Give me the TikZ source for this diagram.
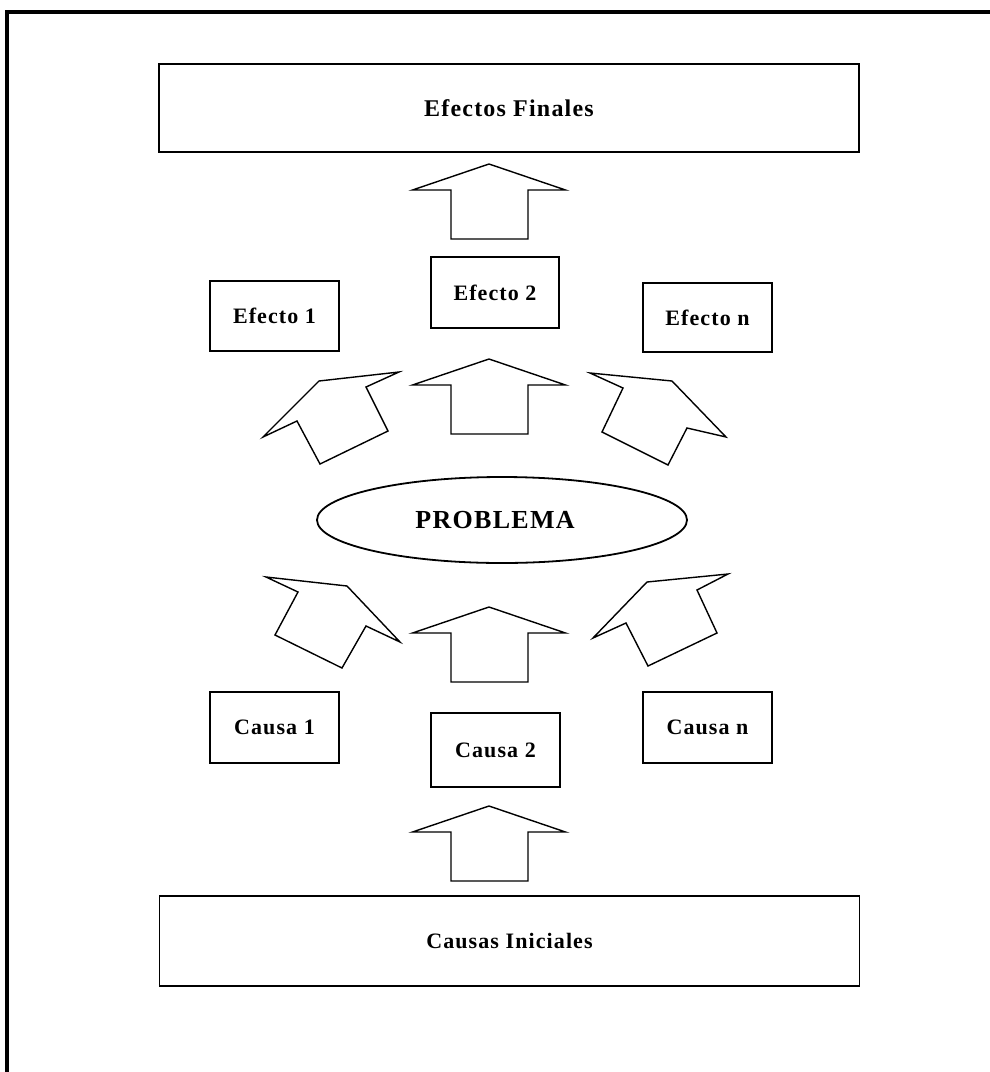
\documentclass[tikz,border=0pt]{standalone}
\usepackage{fontspec}
\setmainfont{Liberation Serif}[LetterSpace=5]
\usetikzlibrary{shapes.geometric}

\tikzset{
  caja/.style={draw, line width=0.9pt, inner sep=0pt,
               font=\bfseries\fontsize{11}{13}\selectfont},
  cajagrande/.style={caja, minimum width=350pt, minimum height=44pt},
  flecha/.style={draw, line width=0.7pt, line join=miter},
  marco/.style={line width=2.2pt},
}

\begin{document}
\begin{tikzpicture}[x=0.5pt, y=-0.5pt]
\useasboundingbox (0,0) rectangle (990,1072);
\draw[marco] (7,1072) -- (7,12) -- (990,12);

% efectos
\node[cajagrande, font=\bfseries\fontsize{12}{14}\selectfont] (efinal) at (509,108) {Efectos Finales};
\node[caja, minimum width=64.5pt, minimum height=35pt] (efecto1) at (274.5,316) {Efecto 1};
\node[caja, minimum width=64pt, minimum height=35.5pt] (efecto2) at (495,292.5) {Efecto 2};
\node[caja, minimum width=64.5pt, minimum height=34.5pt] (efecton) at (707.5,317.5) {Efecto n};

\node[draw, ellipse, line width=0.9pt, minimum width=185pt, minimum height=43pt,
      font=\bfseries\fontsize{13}{15}\selectfont] (problema) at (502,520) {\hspace*{-7pt}PROBLEMA};

% causas
\node[caja, minimum width=64.5pt, minimum height=35.5pt] (causa1) at (274.5,727.5) {Causa 1};
\node[caja, minimum width=64.5pt, minimum height=37pt] (causa2) at (495.5,750) {Causa 2};
\node[caja, minimum width=64.5pt, minimum height=35.5pt] (causan) at (707.5,727.5) {Causa n};
\node[cajagrande, minimum height=45pt] (cinicial) at (509.5,941) {Causas Iniciales};

% flechas rectas
\foreach \ty in {164,359,607,806}
  \draw[flecha] (489,\ty) -- (565.5,\ty+26) -- (528,\ty+26) -- (528,\ty+75)
    -- (451,\ty+75) -- (451,\ty+26) -- (412.5,\ty+26) -- cycle;

% flechas inclinadas
\draw[flecha] (319,381) -- (399,372) -- (366,387) -- (388,431) -- (320,464) -- (297,421) -- (263,437) -- cycle;
\draw[flecha] (672,381) -- (726,437) -- (687,428) -- (668,465) -- (602,432) -- (623,388) -- (590,373) -- cycle;
\draw[flecha] (347,586) -- (400,642) -- (366,626) -- (342,668) -- (275,635) -- (298,592) -- (266,577) -- cycle;
\draw[flecha] (647,582) -- (593,638) -- (626,623) -- (648,666) -- (717,633) -- (697,590) -- (728,574) -- cycle;
\end{tikzpicture}
\end{document}
